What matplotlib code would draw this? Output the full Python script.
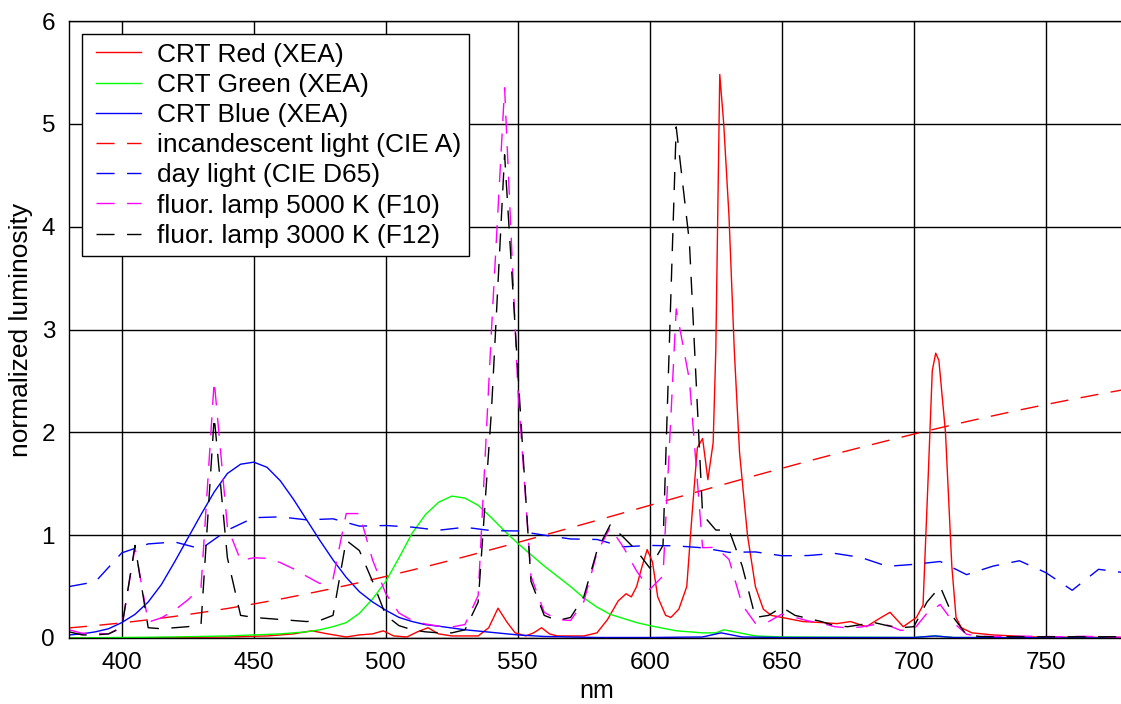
import numpy as np
import matplotlib
matplotlib.use('Agg')
import matplotlib.pyplot as plt
from matplotlib.legend_handler import HandlerLine2D

plt.rcParams['font.family'] = ['Liberation Sans', 'DejaVu Sans']

# wavelength grids (nm)
nm10 = np.arange(380, 781, 10)
nm5 = np.arange(380, 781, 5)

# CIE A (incandescent)
cie_a = [0.098, 0.121, 0.147, 0.177, 0.210, 0.247, 0.287, 0.331, 0.378, 0.429,
         0.482, 0.539, 0.599, 0.661, 0.725, 0.791, 0.860, 0.929, 1.000, 1.072,
         1.144, 1.217, 1.290, 1.364, 1.436, 1.508, 1.580, 1.650, 1.720, 1.788,
         1.854, 1.919, 1.983, 2.044, 2.104, 2.161, 2.217, 2.270, 2.321, 2.370, 2.417]

# CIE D65 (day light)
cie_d65 = [0.500, 0.547, 0.828, 0.915, 0.934, 0.867, 1.049, 1.170, 1.178, 1.149,
           1.159, 1.088, 1.094, 1.078, 1.048, 1.077, 1.044, 1.041, 1.000, 0.963,
           0.958, 0.887, 0.900, 0.896, 0.877, 0.833, 0.837, 0.800, 0.802, 0.823,
           0.783, 0.697, 0.716, 0.744, 0.616, 0.699, 0.751, 0.636, 0.464, 0.668, 0.634]

# F10 fluorescent 5000 K (5 nm steps)
f10 = [0.08, 0.046, 0.045, 0.041, 0.107, 0.88, 0.154, 0.196, 0.27, 0.37,
       0.49, 2.50, 1.08, 0.755, 0.78, 0.775, 0.734, 0.673, 0.60, 0.53,
       0.574, 1.21, 1.21, 0.758, 0.431, 0.242, 0.171, 0.136, 0.115, 0.107,
       0.131, 0.415, 2.98, 5.35, 2.44, 0.60, 0.25, 0.18, 0.17, 0.353,
       0.831, 1.074, 0.883, 0.651, 0.473, 0.603, 3.20, 2.51, 0.878, 0.882,
       0.764, 0.322, 0.142, 0.159, 0.232, 0.201, 0.166, 0.145, 0.110, 0.098,
       0.107, 0.130, 0.126, 0.074, 0.083, 0.241, 0.326, 0.149, 0.036, 0.017,
       0.015, 0.015, 0.017, 0.017, 0.015, 0.012, 0.015, 0.016, 0.012, 0.009, 0.007]

# F12 fluorescent 3000 K (5 nm steps)
f12 = [0.06, 0.03, 0.03, 0.04, 0.10, 0.90, 0.10, 0.09, 0.10, 0.11,
       0.13, 2.15, 0.78, 0.22, 0.20, 0.19, 0.18, 0.17, 0.16, 0.17,
       0.22, 0.95, 0.85, 0.55, 0.22, 0.12, 0.08, 0.06, 0.05, 0.05,
       0.08, 0.35, 2.20, 4.70, 2.60, 0.55, 0.22, 0.17, 0.20, 0.40,
       0.85, 1.10, 0.98, 0.85, 0.68, 0.90, 4.97, 3.85, 1.20, 1.05,
       1.05, 0.70, 0.20, 0.22, 0.30, 0.22, 0.19, 0.16, 0.12, 0.11,
       0.13, 0.15, 0.12, 0.10, 0.11, 0.35, 0.50, 0.20, 0.03, 0.015,
       0.012, 0.012, 0.012, 0.012, 0.012, 0.012, 0.012, 0.012, 0.012, 0.012, 0.012]

# CRT phosphors (XEA)
red_nm = [380, 400, 420, 440, 455, 465, 472, 478, 485, 490, 495, 499, 503, 508, 512,
          516, 520, 525, 535, 539, 542.5, 546, 549, 553, 556, 559, 562, 565, 575, 580,
          584, 588, 591, 593, 595, 597, 599, 601, 603, 606, 608, 611, 614, 616, 618,
          620, 622, 624, 625, 626.5, 628, 630, 632, 634, 637, 640, 643, 646, 652, 658,
          665, 671, 676, 682, 687, 691, 696, 701, 703.5, 705.5, 707, 708.3, 709.5, 712, 714.4,
          716, 718, 722, 730, 745, 780]
red = [0.0, 0.0, 0.005, 0.01, 0.02, 0.04, 0.07, 0.04, 0.01, 0.03, 0.04, 0.07, 0.02, 0.01, 0.06,
       0.10, 0.04, 0.02, 0.02, 0.10, 0.29, 0.15, 0.05, 0.02, 0.05, 0.10, 0.04, 0.02, 0.02, 0.05,
       0.18, 0.36, 0.43, 0.40, 0.50, 0.69, 0.86, 0.74, 0.40, 0.22, 0.20, 0.28, 0.50, 1.20, 1.85,
       1.94, 1.54, 1.90, 2.80, 5.48, 5.00, 4.10, 2.80, 1.80, 1.00, 0.50, 0.28, 0.22, 0.19, 0.16,
       0.15, 0.14, 0.16, 0.11, 0.19, 0.25, 0.11, 0.20, 0.32, 1.60, 2.60, 2.77, 2.70, 2.00, 0.70,
       0.20, 0.10, 0.05, 0.03, 0.01, 0.005]

green_nm = [380, 400, 420, 440, 450, 460, 470, 475, 480, 485, 490, 495, 500, 505, 510, 515,
            520, 525, 530, 535, 540, 545, 550, 555, 560, 565, 570, 575, 580, 585, 590, 595,
            600, 610, 620, 625, 628, 632, 640, 650, 700, 708, 715, 780]
green = [0.0, 0.005, 0.01, 0.02, 0.03, 0.04, 0.06, 0.08, 0.11, 0.15, 0.24, 0.38, 0.55, 0.78, 1.02,
         1.20, 1.32, 1.38, 1.36, 1.29, 1.17, 1.04, 0.92, 0.81, 0.70, 0.60, 0.50, 0.39, 0.30, 0.23,
         0.19, 0.15, 0.12, 0.07, 0.05, 0.05, 0.08, 0.06, 0.02, 0.01, 0.005, 0.02, 0.005, 0.0]

blue_nm = [380, 385, 390, 395, 400, 405, 410, 415, 420, 425, 430, 435, 440, 445, 450,
           455, 460, 465, 470, 475, 480, 485, 490, 495, 500, 505, 510, 515, 520, 530,
           540, 550, 560, 580, 600, 620, 627, 635, 650, 700, 708, 715, 780]
blue = [0.03, 0.04, 0.06, 0.09, 0.15, 0.23, 0.35, 0.52, 0.74, 0.97, 1.20, 1.42, 1.60, 1.69, 1.71,
        1.66, 1.53, 1.35, 1.15, 0.95, 0.76, 0.59, 0.45, 0.35, 0.27, 0.20, 0.16, 0.13, 0.115, 0.08,
        0.055, 0.03, 0.015, 0.005, 0.005, 0.01, 0.05, 0.01, 0.005, 0.005, 0.02, 0.005, 0.0]

fig = plt.figure(figsize=(11.21, 7.04), dpi=100)
ax = fig.add_axes([69 / 1121, 66 / 704, 1056 / 1121, 617 / 704])

lw = 1.0
dash = (13, 9)
ax.plot(red_nm, red, color='#ff0000', lw=lw, label='CRT Red (XEA)')
ax.plot(green_nm, green, color='#00ff00', lw=lw, label='CRT Green (XEA)')
ax.plot(blue_nm, blue, color='#0000ff', lw=lw, label='CRT Blue (XEA)')
ax.plot(nm10, cie_a, color='#ff0000', lw=lw, dashes=dash, label='incandescent light (CIE A)')
ax.plot(nm10, cie_d65, color='#0000ff', lw=lw, dashes=dash, label='day light (CIE D65)')
ax.plot(nm5, f10, color='#ff00ff', lw=lw, dashes=dash, label='fluor. lamp 5000 K (F10)')
ax.plot(nm5, f12, color='black', lw=lw, dashes=dash, label='fluor. lamp 3000 K (F12)')

ax.set_xlim(380, 780)
ax.set_ylim(0, 6)
ax.set_xticks(range(400, 751, 50))
ax.set_yticks(range(0, 7))
ax.grid(True, color='black', linewidth=1.0)
ax.set_axisbelow(True)
ax.tick_params(length=0, labelsize=17.5, pad=10)
for s in ax.spines.values():
    s.set_color('black')
    s.set_linewidth(1.0)

ax.set_xlabel('nm', fontsize=18, labelpad=4)
ax.set_ylabel('normalized luminosity', fontsize=19, labelpad=6)

# shift legend lines right a bit inside the handle box
hpad = HandlerLine2D(xpad=0.22)
leg = ax.legend(loc='upper left', fontsize=19, frameon=True, fancybox=False,
                edgecolor='black', framealpha=1, handlelength=1.9, labelspacing=0.235,
                borderpad=0.32, handletextpad=0.6, borderaxespad=0.5,
                handler_map={plt.Line2D: hpad})
leg.get_frame().set_linewidth(1.0)

fig.savefig('out.png', dpi=100)
